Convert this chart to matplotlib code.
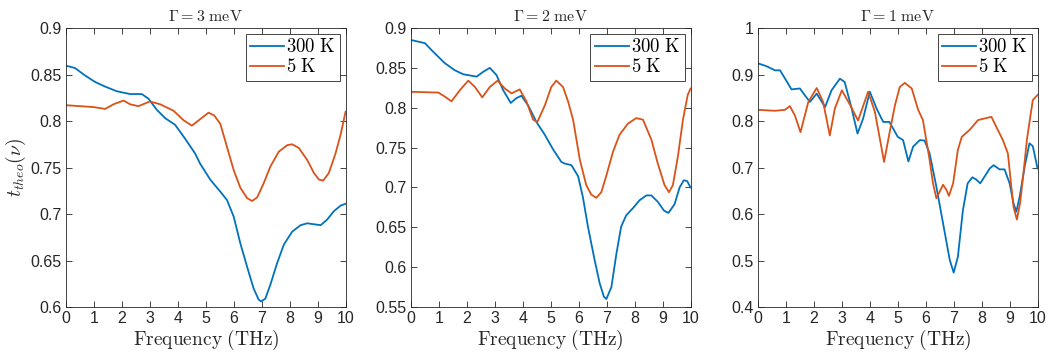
import matplotlib
matplotlib.use("Agg")
import matplotlib.pyplot as plt
from matplotlib.ticker import FuncFormatter, MultipleLocator

plt.rcParams['mathtext.fontset'] = 'cm'
plt.rcParams['font.family'] = ['Liberation Sans', 'DejaVu Sans']

# ---- data: frequency (THz) vs t_theo ----
titles = [r'$\Gamma = 3\ \mathrm{meV}$', r'$\Gamma = 2\ \mathrm{meV}$', r'$\Gamma = 1\ \mathrm{meV}$']
labels = [r'$\mathrm{300\ K}$', r'$\mathrm{5\ K}$']

# Gamma = 3 meV
g3_hot_x = [0, 0.32, 0.68, 1.04, 1.4, 1.82, 2.29, 2.71, 2.95, 3.25, 3.55, 3.9, 4.26, 4.62, 4.8,
            5.16, 5.52, 5.76, 6.0, 6.24, 6.48, 6.71, 6.89, 6.98, 7.13, 7.31, 7.55, 7.79, 8.09,
            8.39, 8.63, 8.87, 9.11, 9.34, 9.58, 9.82, 10]
g3_hot_y = [0.8595, 0.857, 0.849, 0.842, 0.837, 0.832, 0.829, 0.829, 0.824, 0.812, 0.803, 0.796,
            0.781, 0.765, 0.754, 0.737, 0.724, 0.715, 0.697, 0.668, 0.643, 0.620, 0.608, 0.606,
            0.609, 0.624, 0.647, 0.667, 0.681, 0.688, 0.690, 0.689, 0.688, 0.694, 0.703, 0.709,
            0.711]
g3_cold_x = [0, 0.98, 1.4, 1.7, 2.06, 2.29, 2.59, 3.0, 3.37, 3.85, 4.2, 4.5, 4.8, 5.1, 5.3, 5.52,
             5.76, 6.0, 6.24, 6.48, 6.66, 6.84, 7.07, 7.31, 7.61, 7.91, 8.09, 8.33, 8.63, 8.87,
             9.05, 9.2, 9.4, 9.64, 9.82, 10]
g3_cold_y = [0.817, 0.815, 0.813, 0.818, 0.822, 0.818, 0.816, 0.821, 0.818, 0.811, 0.801, 0.795,
             0.802, 0.809, 0.806, 0.797, 0.772, 0.747, 0.728, 0.717, 0.714, 0.718, 0.733, 0.751,
             0.767, 0.774, 0.775, 0.771, 0.758, 0.744, 0.737, 0.736, 0.744, 0.765, 0.785, 0.810]

# Gamma = 2 meV
g2_hot_x = [0, 0.5, 0.8, 1.21, 1.57, 1.87, 2.35, 2.58, 2.82, 3.06, 3.3, 3.57, 3.77, 3.95, 4.19,
            4.49, 4.79, 5.08, 5.38, 5.5, 5.74, 5.98, 6.15, 6.33, 6.57, 6.75, 6.9, 6.99, 7.17,
            7.35, 7.52, 7.7, 7.94, 8.18, 8.42, 8.6, 8.83, 9.05, 9.21, 9.43, 9.61, 9.76, 9.88, 10]
g2_hot_y = [0.885, 0.881, 0.870, 0.856, 0.847, 0.842, 0.839, 0.845, 0.850, 0.841, 0.822, 0.806,
            0.812, 0.815, 0.803, 0.782, 0.766, 0.748, 0.732, 0.730, 0.728, 0.714, 0.688, 0.651,
            0.609, 0.580, 0.563, 0.560, 0.575, 0.617, 0.651, 0.665, 0.674, 0.684, 0.690, 0.690,
            0.682, 0.671, 0.668, 0.679, 0.700, 0.709, 0.708, 0.700]
g2_cold_x = [0, 0.98, 1.21, 1.45, 1.75, 2.05, 2.29, 2.55, 2.82, 3.1, 3.36, 3.6, 3.89, 4.13, 4.37,
             4.52, 4.79, 5.02, 5.2, 5.44, 5.62, 5.8, 6.04, 6.27, 6.45, 6.63, 6.81, 6.99, 7.23,
             7.46, 7.76, 8.06, 8.3, 8.6, 8.83, 9.07, 9.23, 9.37, 9.55, 9.73, 9.9, 10]
g2_cold_y = [0.820, 0.819, 0.814, 0.808, 0.822, 0.834, 0.826, 0.813, 0.826, 0.834, 0.824, 0.818,
             0.823, 0.808, 0.785, 0.782, 0.803, 0.826, 0.834, 0.826, 0.808, 0.785, 0.735, 0.703,
             0.691, 0.687, 0.694, 0.715, 0.745, 0.766, 0.780, 0.787, 0.785, 0.760, 0.730, 0.703,
             0.694, 0.703, 0.739, 0.785, 0.816, 0.824]

# Gamma = 1 meV
g1_hot_x = [0, 0.3, 0.61, 0.79, 1.0, 1.2, 1.5, 1.68, 1.86, 2.1, 2.4, 2.63, 2.93, 3.1, 3.35, 3.56,
            3.76, 4.0, 4.24, 4.48, 4.7, 5.0, 5.19, 5.38, 5.55, 5.79, 5.96, 6.14, 6.38, 6.62, 6.86,
            7.0, 7.15, 7.33, 7.5, 7.67, 7.81, 7.95, 8.1, 8.29, 8.43, 8.64, 8.82, 9.0, 9.14, 9.24,
            9.36, 9.54, 9.71, 9.83, 10]
g1_hot_y = [0.924, 0.918, 0.909, 0.909, 0.888, 0.868, 0.870, 0.855, 0.841, 0.859, 0.830, 0.866,
            0.891, 0.884, 0.827, 0.773, 0.805, 0.863, 0.827, 0.798, 0.798, 0.766, 0.759, 0.713,
            0.745, 0.759, 0.758, 0.730, 0.659, 0.580, 0.501, 0.474, 0.508, 0.608, 0.666, 0.679,
            0.674, 0.666, 0.680, 0.698, 0.705, 0.696, 0.696, 0.666, 0.623, 0.605, 0.637, 0.702,
            0.752, 0.746, 0.698]
g1_cold_x = [0, 0.61, 0.96, 1.14, 1.32, 1.52, 1.8, 2.1, 2.33, 2.57, 2.75, 3.0, 3.3, 3.58, 3.94,
             4.18, 4.35, 4.51, 4.71, 4.9, 5.07, 5.25, 5.5, 5.73, 5.9, 6.14, 6.26, 6.38, 6.5, 6.62,
             6.74, 6.83, 6.98, 7.15, 7.29, 7.57, 7.87, 8.35, 8.52, 8.76, 8.94, 9.06, 9.14, 9.26,
             9.38, 9.5, 9.62, 9.83, 10]
g1_cold_y = [0.824, 0.822, 0.824, 0.832, 0.812, 0.776, 0.841, 0.871, 0.841, 0.769, 0.827, 0.866,
             0.834, 0.801, 0.863, 0.820, 0.765, 0.712, 0.776, 0.834, 0.873, 0.882, 0.870, 0.824,
             0.802, 0.716, 0.666, 0.634, 0.648, 0.663, 0.652, 0.639, 0.666, 0.738, 0.766, 0.781,
             0.802, 0.809, 0.788, 0.759, 0.730, 0.660, 0.616, 0.588, 0.625, 0.690, 0.760, 0.845,
             0.856]

panels = [
    (g3_hot_x, g3_hot_y, g3_cold_x, g3_cold_y, (0.6, 0.9), 0.05),
    (g2_hot_x, g2_hot_y, g2_cold_x, g2_cold_y, (0.55, 0.9), 0.05),
    (g1_hot_x, g1_hot_y, g1_cold_x, g1_cold_y, (0.4, 1.0), 0.1),
]

blue = '#0072BD'
orange = '#D95319'
axcol = '#262626'

fig = plt.figure(figsize=(10.51, 3.56), dpi=100)
lefts = [0.0628, 0.391, 0.7212]

for k, (hx, hy, cx, cy, ylim, ystep) in enumerate(panels):
    ax = fig.add_axes([lefts[k], 0.1376, 0.2660, 0.7837])
    ax.plot(hx, hy, color=blue, lw=1.3, solid_joinstyle='round', label=labels[0])
    ax.plot(cx, cy, color=orange, lw=1.3, solid_joinstyle='round', label=labels[1])
    ax.set_xlim(0, 10)
    ax.set_ylim(*ylim)
    ax.xaxis.set_major_locator(MultipleLocator(1))
    ax.yaxis.set_major_locator(MultipleLocator(ystep))
    ax.yaxis.set_major_formatter(FuncFormatter(lambda v, p: '%g' % round(v, 3)))
    ax.tick_params(direction='in', top=True, right=True, length=4, width=0.6,
                   colors=axcol, labelsize=11.5, pad=3)
    for s in ax.spines.values():
        s.set_color(axcol)
        s.set_linewidth(0.6)
    ax.set_title(titles[k], fontsize=11.5, pad=5, color=axcol)
    ax.set_xlabel(r'$\mathrm{Frequency\ (THz)}$', fontsize=14, labelpad=1, color=axcol)
    if k == 0:
        ax.set_ylabel(r'$t_{theo}(\nu)$', fontsize=14, labelpad=2, color=axcol)
    leg = ax.legend(loc='upper right', fontsize=13.5, fancybox=False, framealpha=1,
                    borderpad=0.25, handlelength=1.8, handletextpad=0.1, labelspacing=0.1,
                    borderaxespad=0.3)
    leg.get_frame().set_edgecolor(axcol)
    leg.get_frame().set_linewidth(0.6)

fig.savefig('out.png', dpi=100)
